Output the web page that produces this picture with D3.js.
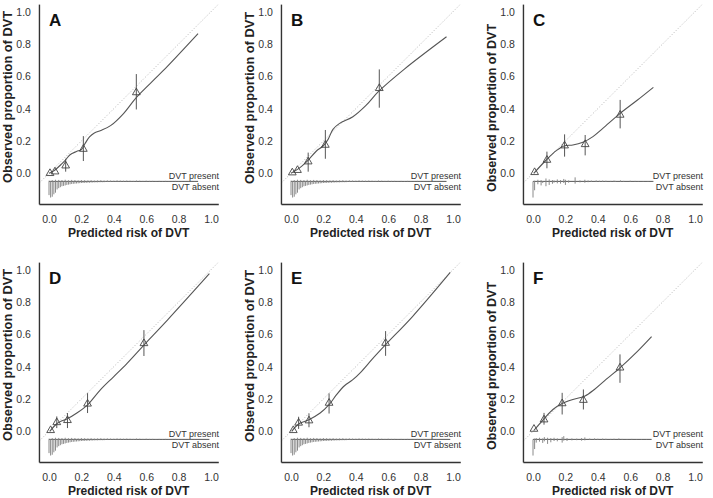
<!DOCTYPE html>
<html>
<head>
<meta charset="utf-8">
<script src="https://cdn.jsdelivr.net/npm/d3@7"></script>
<style>
  body { margin: 0; background: #fff; }
  svg { display: block; font-family: "Liberation Sans", Arial, sans-serif; }
</style>
</head>
<body>
<svg id="chart" width="713" height="498"></svg>
<script>
const panelLabels = ["A", "B", "C", "D", "E", "F"];
const tickValues = [0, 0.2, 0.4, 0.6, 0.8, 1.0];
const xTitle = "Predicted risk of DVT";
const yTitle = "Observed proportion of DVT";
const presentLabel = "DVT present";
const absentLabel = "DVT absent";

// smoothed calibration curves [predicted, observed]
const calA = [[0, 0], [0.03, 0.015], [0.08, 0.06], [0.10, 0.08], [0.13, 0.115], [0.17, 0.135], [0.20, 0.147], [0.22, 0.18], [0.25, 0.225], [0.28, 0.25], [0.32, 0.265], [0.38, 0.295], [0.46, 0.37], [0.54, 0.47], [0.70, 0.63], [0.92, 0.865]];
const calB = [[0, 0], [0.055, 0.035], [0.106, 0.082], [0.157, 0.138], [0.198, 0.169], [0.229, 0.21], [0.259, 0.272], [0.30, 0.309], [0.382, 0.35], [0.463, 0.42], [0.539, 0.505], [0.70, 0.645], [0.96, 0.845]];
const calC = [[0.005, 0], [0.086, 0.087], [0.144, 0.14], [0.195, 0.171], [0.246, 0.175], [0.308, 0.192], [0.37, 0.227], [0.431, 0.278], [0.538, 0.371], [0.643, 0.452], [0.743, 0.532]];
const calD = [[0.005, 0], [0.048, 0.047], [0.08, 0.065], [0.11, 0.076], [0.172, 0.113], [0.238, 0.164], [0.317, 0.257], [0.40, 0.339], [0.482, 0.421], [0.586, 0.534], [0.731, 0.688], [0.99, 0.975]];
const calE = [[0.005, 0], [0.047, 0.045], [0.111, 0.072], [0.18, 0.113], [0.235, 0.165], [0.28, 0.225], [0.33, 0.282], [0.38, 0.318], [0.43, 0.365], [0.50, 0.445], [0.584, 0.536], [0.75, 0.71], [0.983, 0.983]];
const calF = [[0.005, 0.005], [0.068, 0.077], [0.123, 0.135], [0.18, 0.172], [0.246, 0.197], [0.318, 0.217], [0.379, 0.259], [0.451, 0.321], [0.537, 0.393], [0.64, 0.49], [0.732, 0.586]];

// grouped observations [predicted, observed, lower, upper]
const grpA = [[0.006, 0.0, 0.0, 0.0], [0.037, 0.01, 0.01, 0.01], [0.103, 0.047, 0.01, 0.09], [0.212, 0.15, 0.076, 0.23], [0.539, 0.50, 0.395, 0.614]];
const grpB = [[0.008, 0.004, 0.004, 0.004], [0.04, 0.019, 0.019, 0.019], [0.106, 0.072, 0.01, 0.128], [0.212, 0.175, 0.09, 0.268], [0.545, 0.526, 0.406, 0.643]];
const grpC = [[0.01, 0.006, 0.006, 0.006], [0.086, 0.082, 0.031, 0.134], [0.195, 0.171, 0.103, 0.241], [0.322, 0.179, 0.111, 0.237], [0.538, 0.361, 0.278, 0.454]];
const grpD = [[0.01, 0.006, 0.006, 0.006], [0.048, 0.055, 0.02, 0.092], [0.114, 0.068, 0.02, 0.113], [0.238, 0.17, 0.113, 0.236], [0.586, 0.544, 0.466, 0.626]];
const grpE = [[0.014, 0.006, 0.006, 0.006], [0.047, 0.052, 0.015, 0.09], [0.111, 0.066, 0.025, 0.11], [0.235, 0.175, 0.11, 0.235], [0.584, 0.546, 0.467, 0.62]];
const grpF = [[0.006, 0.014, 0.014, 0.014], [0.068, 0.072, 0.041, 0.114], [0.18, 0.172, 0.104, 0.238], [0.311, 0.193, 0.135, 0.259], [0.537, 0.393, 0.30, 0.476]];

// risk distribution (counts) for the continuous models, absent in 0.01 bins, present in 0.02 bins
const rugDenseAbsent = [85, 100, 95, 80, 70, 50, 42, 36, 30, 28, 25, 22, 20, 18, 16, 15, 14, 13, 12, 11, 10, 10, 9, 9, 8, 8, 7, 7, 6, 6, 6, 5, 5, 5, 5, 4, 4, 4, 4, 3, 3, 3, 3, 3, 3, 2, 2, 2, 2, 2, 2, 2, 2, 2, 1, 1, 1, 1, 1, 1, 1, 1, 1, 1, 1, 0, 1, 0, 1, 0, 1];
const rugDensePresent = [4, 8, 10, 9, 8, 10, 7, 9, 8, 6, 8, 7, 6, 7, 5, 6, 7, 5, 6, 5, 4, 6, 5, 4, 5, 4, 3, 5, 4, 3, 4, 3, 3, 2, 3, 2, 3, 2, 2, 3, 2, 2, 1, 2, 1, 2, 1];

// risk distribution for the score models
const rugCX = [0.00, 0.01, 0.03, 0.05, 0.06, 0.08, 0.10, 0.12, 0.13, 0.15, 0.17, 0.19, 0.20, 0.22, 0.26, 0.29, 0.32, 0.34, 0.36, 0.39, 0.41, 0.43, 0.45, 0.48, 0.50, 0.51, 0.54, 0.56, 0.60, 0.63, 0.65, 0.68, 0.71, 0.74];
const rugCAbsent = [100, 55, 18, 25, 10, 30, 22, 15, 8, 12, 14, 10, 22, 8, 14, 6, 8, 5, 4, 4, 3, 4, 3, 2, 3, 2, 3, 2, 2, 1, 1, 1, 1, 0];
const rugCPresent = [0, 4, 10, 8, 0, 18, 12, 8, 6, 12, 8, 15, 10, 6, 25, 6, 10, 6, 5, 6, 4, 5, 4, 3, 5, 3, 6, 3, 4, 3, 2, 2, 2, 2];
const rugFX = [0.00, 0.01, 0.02, 0.04, 0.06, 0.07, 0.09, 0.11, 0.13, 0.15, 0.18, 0.19, 0.21, 0.24, 0.27, 0.30, 0.32, 0.35, 0.38, 0.40, 0.43, 0.45, 0.48, 0.50, 0.53, 0.55, 0.58, 0.61, 0.64, 0.67, 0.70, 0.73];
const rugFAbsent = [100, 60, 20, 14, 22, 12, 28, 18, 10, 12, 20, 8, 10, 6, 5, 8, 6, 4, 4, 3, 3, 3, 2, 2, 2, 2, 1, 1, 1, 1, 1, 0];
const rugFPresent = [0, 5, 8, 10, 6, 14, 10, 8, 10, 6, 14, 20, 8, 6, 5, 8, 12, 5, 6, 4, 5, 4, 3, 4, 6, 3, 2, 3, 2, 2, 2, 2];

function denseRug() {
    return {
        absent: rugDenseAbsent.map((c, i) => [i * 0.01, c]),
        present: rugDensePresent.map((c, i) => [i * 0.02, c])
    };
}
function scoreRug(xs, ab, pr) {
    return {
        absent: xs.map((v, i) => [v, ab[i]]),
        present: xs.map((v, i) => [v, pr[i]])
    };
}

const panels = [
    { label: panelLabels[0], cal: calA, grp: grpA, rug: denseRug() },
    { label: panelLabels[1], cal: calB, grp: grpB, rug: denseRug() },
    { label: panelLabels[2], cal: calC, grp: grpC, rug: scoreRug(rugCX, rugCAbsent, rugCPresent) },
    { label: panelLabels[3], cal: calD, grp: grpD, rug: denseRug() },
    { label: panelLabels[4], cal: calE, grp: grpE, rug: denseRug() },
    { label: panelLabels[5], cal: calF, grp: grpF, rug: scoreRug(rugFX, rugFAbsent, rugFPresent) }
];

const svg = d3.select("#chart");
const colX = [0, 242, 484];
const rowY = [0, 258];
const yTitleMid = [97, 98, 108];
const xLim = [-0.062, 1.045];
const yLim = [-0.19, 1.047];
const rugBase = -0.05;
const spikeLen = d3.scaleLinear().domain([0, 100]).range([0, 0.1]);

panels.forEach((p, i) => {
    const col = i % 3, row = Math.floor(i / 3);
    const g = svg.append("g").attr("transform", `translate(${colX[col]},${rowY[row]})`);

    const x = d3.scaleLinear().domain([0, 1]).range([49, 211]);
    const y = d3.scaleLinear().domain([0, 1]).range([173.3, 11.7]);
    const xa = x.copy().domain(xLim).range(xLim.map(v => x(v)));
    const ya = y.copy().domain(yLim).range(yLim.map(v => y(v)));

    // clip for diagonal
    const clipId = "clip" + i;
    g.append("clipPath").attr("id", clipId)
        .append("rect")
        .attr("x", x(xLim[0])).attr("y", y(yLim[1]))
        .attr("width", x(xLim[1]) - x(xLim[0]))
        .attr("height", y(yLim[0]) - y(yLim[1]));

    // ideal line
    g.append("line")
        .attr("clip-path", `url(#${clipId})`)
        .attr("x1", x(xLim[0])).attr("y1", y(xLim[0]))
        .attr("x2", x(1.1)).attr("y2", y(1.1))
        .attr("stroke", "#a0a0a0")
        .attr("stroke-width", 0.8)
        .attr("stroke-dasharray", "1,2");

    // axes
    const xAxis = g.append("g")
        .attr("transform", `translate(0,${y(yLim[0])})`)
        .call(d3.axisBottom(xa).tickValues(tickValues).tickSize(0).tickSizeOuter(0).tickPadding(12).tickFormat(d3.format(".1f")));
    const yAxis = g.append("g")
        .attr("transform", `translate(${x(xLim[0])},0)`)
        .call(d3.axisLeft(ya).tickValues(tickValues).tickSize(0).tickSizeOuter(0).tickPadding(8).tickFormat(d3.format(".1f")));
    [xAxis, yAxis].forEach(a => {
        a.select(".domain").attr("stroke", "#333").attr("stroke-width", 1.4);
        a.selectAll("text")
            .attr("fill", "#333")
            .style("font-size", "10.5px")
            .style("font-family", "'Liberation Sans', Arial, sans-serif");
    });

    // titles
    g.append("text")
        .attr("x", (x(xLim[0]) + x(xLim[1])) / 2)
        .attr("y", 237)
        .attr("text-anchor", "middle")
        .attr("font-weight", "bold")
        .attr("font-size", "12px")
        .attr("fill", "#222")
        .text(xTitle);
    g.append("text")
        .attr("transform", `translate(11.5,${yTitleMid[col]}) rotate(-90)`)
        .attr("text-anchor", "middle")
        .attr("font-weight", "bold")
        .attr("font-size", col === 2 ? "12.5px" : "12.8px")
        .attr("fill", "#222")
        .text(yTitle);
    g.append("text")
        .attr("x", x(0))
        .attr("y", 26)
        .attr("font-weight", "bold")
        .attr("font-size", "17px")
        .attr("fill", "#111")
        .text(p.label);

    // risk distribution
    const maxPred = p.cal[p.cal.length - 1][0];
    g.append("line")
        .attr("x1", x(0)).attr("x2", x(maxPred))
        .attr("y1", y(rugBase)).attr("y2", y(rugBase))
        .attr("stroke", "#555").attr("stroke-width", 1);
    g.selectAll(".absent")
        .data(p.rug.absent.filter(d => d[1] > 0))
        .enter().append("line")
        .attr("x1", d => x(d[0])).attr("x2", d => x(d[0]))
        .attr("y1", y(rugBase))
        .attr("y2", d => y(rugBase - spikeLen(d[1])))
        .attr("stroke", "#8a8a8a").attr("stroke-width", 1);
    g.selectAll(".present")
        .data(p.rug.present.filter(d => d[1] > 0))
        .enter().append("line")
        .attr("x1", d => x(d[0])).attr("x2", d => x(d[0]))
        .attr("y1", y(rugBase))
        .attr("y2", d => y(rugBase + spikeLen(d[1])))
        .attr("stroke", "#8a8a8a").attr("stroke-width", 1);
    g.append("text")
        .attr("x", x(1.05)).attr("y", y(rugBase) - 2)
        .attr("text-anchor", "end")
        .attr("font-size", "9px").attr("fill", "#333")
        .text(presentLabel);
    g.append("text")
        .attr("x", x(1.05)).attr("y", y(rugBase) + 8.5)
        .attr("text-anchor", "end")
        .attr("font-size", "9px").attr("fill", "#333")
        .text(absentLabel);

    // calibration curve
    const line = d3.line()
        .x(d => x(d[0]))
        .y(d => y(d[1]))
        .curve(d3.curveCatmullRom.alpha(0.5));
    g.append("path")
        .datum(p.cal)
        .attr("d", line)
        .attr("fill", "none")
        .attr("stroke", "#555")
        .attr("stroke-width", 1.1);

    // error bars and group triangles
    g.selectAll(".bar")
        .data(p.grp)
        .enter().append("line")
        .attr("x1", d => x(d[0])).attr("x2", d => x(d[0]))
        .attr("y1", d => y(d[2])).attr("y2", d => y(d[3]))
        .attr("stroke", "#555").attr("stroke-width", 1);
    g.selectAll(".tri")
        .data(p.grp)
        .enter().append("path")
        .attr("d", d3.symbol().type(d3.symbolTriangle).size(26))
        .attr("transform", d => `translate(${x(d[0])},${y(d[1])})`)
        .attr("fill", "none")
        .attr("stroke", "#444")
        .attr("stroke-width", 0.9);
});
</script>
</body>
</html>
